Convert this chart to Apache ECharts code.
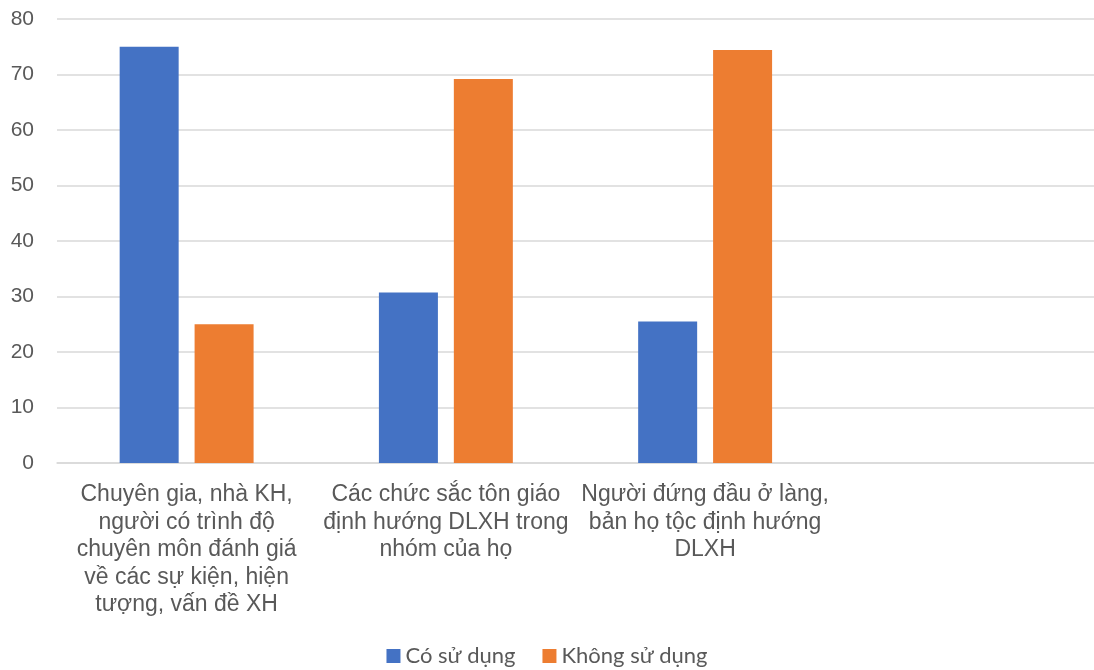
<!DOCTYPE html>
<html>
<head>
<meta charset="utf-8">
<script src="https://cdn.jsdelivr.net/npm/echarts@6/dist/echarts.min.js"></script>
<style>
html,body{margin:0;padding:0;background:#fff;}
#chart{width:1094px;height:670px;}
</style>
</head>
<body>
<div id="chart"></div>
<script>
const categories = [
  "Chuyên gia, nhà KH,\nngười có trình độ\nchuyên môn đánh giá\nvề các sự kiện, hiện\ntượng, vấn đề XH",
  "Các chức sắc tôn giáo\nđịnh hướng DLXH trong\nnhóm của họ",
  "Người đứng đầu ở làng,\nbản họ tộc định hướng\nDLXH",
  ""
];
const seriesNames = ["Có sử dụng", "Không sử dụng"];
const coSuDung = [75, 30.7, 25.5, null];
const khongSuDung = [25, 69.2, 74.4, null];

const chart = echarts.init(document.getElementById('chart'));
chart.setOption({
  animation: false,
  color: ['#4472C4', '#ED7D31'],
  grid: { left: 57, top: 19, width: 1044, height: 444, containLabel: false },
  legend: {
    data: seriesNames,
    top: 640,
    left: 'center',
    itemWidth: 14,
    itemHeight: 14,
    itemGap: 27,
    icon: 'rect',
    textStyle: { fontFamily: 'Lato', fontSize: 22, color: '#595959' }
  },
  xAxis: {
    type: 'category',
    data: categories,
    axisTick: { show: false },
    axisLine: { lineStyle: { color: '#d9d9d9', width: 1.5 } },
    axisLabel: {
      interval: 0,
      hideOverlap: false,
      margin: 18,
      color: '#595959',
      fontFamily: 'Liberation Sans',
      fontSize: 23,
      lineHeight: 27.5,
      align: 'center'
    }
  },
  yAxis: {
    type: 'value',
    min: 0,
    max: 80,
    interval: 10,
    axisLine: { show: false },
    axisTick: { show: false },
    splitLine: { lineStyle: { color: '#d9d9d9', width: 1.5 } },
    axisLabel: {
      margin: 23,
      color: '#595959',
      fontFamily: 'Liberation Sans',
      fontSize: 21
    }
  },
  series: [
    { name: seriesNames[0], type: 'bar', data: coSuDung, barWidth: 59, barGap: '27%' },
    { name: seriesNames[1], type: 'bar', data: khongSuDung, barWidth: 59, barGap: '27%' }
  ]
});
</script>
</body>
</html>
